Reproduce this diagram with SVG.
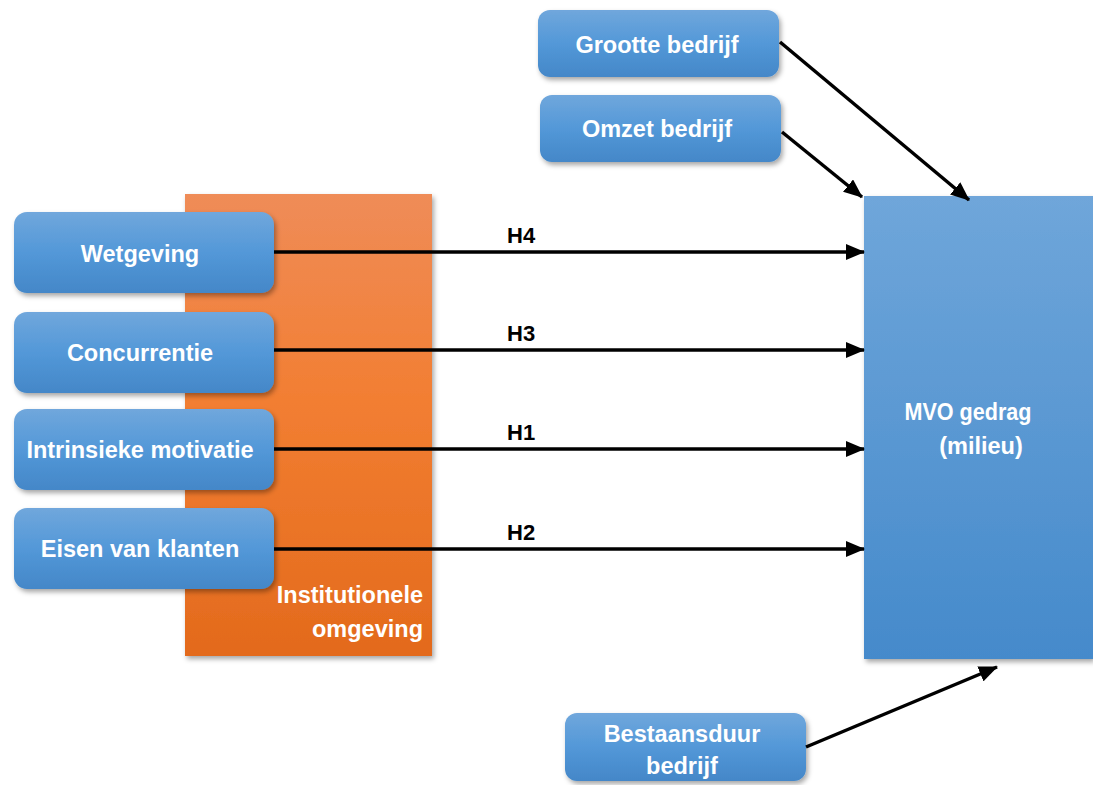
<svg xmlns="http://www.w3.org/2000/svg" width="1093" height="785" viewBox="0 0 1093 785">
<defs>
<linearGradient id="gBlue" x1="0" y1="0" x2="0" y2="1">
<stop offset="0" stop-color="#70A7DC"/>
<stop offset="0.5" stop-color="#5398D8"/>
<stop offset="1" stop-color="#4487C8"/>
</linearGradient>
<linearGradient id="gBig" x1="0" y1="0" x2="0" y2="1">
<stop offset="0" stop-color="#6FA6DA"/>
<stop offset="1" stop-color="#458ACB"/>
</linearGradient>
<linearGradient id="gOrange" x1="0" y1="0" x2="0" y2="1">
<stop offset="0" stop-color="#EF8C58"/>
<stop offset="0.45" stop-color="#F27E32"/>
<stop offset="1" stop-color="#E36A1C"/>
</linearGradient>
<filter id="sh" x="-10%" y="-10%" width="125%" height="130%">
<feDropShadow dx="2" dy="3" stdDeviation="2.5" flood-color="#000" flood-opacity="0.35"/>
</filter>
<marker id="ah" markerUnits="userSpaceOnUse" markerWidth="19" markerHeight="16" refX="18" refY="8" orient="auto">
<path d="M0,0 L19,8 L0,16 Z" fill="#000"/>
</marker>
</defs>
<style>
.box{fill:url(#gBlue);filter:url(#sh);}
.t{font-family:"Liberation Sans",Arial,sans-serif;font-weight:bold;font-size:23.5px;fill:#fff;text-anchor:middle;}
.h{font-family:"Liberation Sans",Arial,sans-serif;font-weight:bold;font-size:22px;fill:#000;}
.c{stroke:#000;stroke-width:3.5;fill:none;marker-end:url(#ah);}
</style>
<rect width="1093" height="785" fill="#fff"/>
<g id="institutionele">
<rect x="185" y="194" width="247" height="462" fill="url(#gOrange)" filter="url(#sh)"/>
<text class="t" style="text-anchor:end" x="423" y="603">Institutionele</text>
<text class="t" style="text-anchor:end" x="423" y="637">omgeving</text>
</g>
<g id="mvo">
<rect x="864" y="196" width="229" height="463" fill="url(#gBig)" filter="url(#sh)"/>
<text class="t" x="968" y="420" textLength="127" lengthAdjust="spacingAndGlyphs">MVO gedrag</text>
<text class="t" x="981" y="454">(milieu)</text>
</g>
<g id="wetgeving">
<rect class="box" x="14" y="212" width="260" height="81" rx="13"/>
<text class="t" x="140" y="262">Wetgeving</text>
</g>
<g id="concurrentie">
<rect class="box" x="14" y="312" width="260" height="81" rx="13"/>
<text class="t" x="140" y="361">Concurrentie</text>
</g>
<g id="intrinsieke">
<rect class="box" x="14" y="409" width="260" height="81" rx="13"/>
<text class="t" x="140" y="458">Intrinsieke motivatie</text>
</g>
<g id="eisen">
<rect class="box" x="14" y="508" width="260" height="81" rx="13"/>
<text class="t" x="140" y="557">Eisen van klanten</text>
</g>
<g id="grootte">
<rect class="box" x="538" y="10" width="241" height="67" rx="12"/>
<text class="t" x="657" y="53">Grootte bedrijf</text>
</g>
<g id="omzet">
<rect class="box" x="540" y="95" width="241" height="67" rx="12"/>
<text class="t" x="657" y="137">Omzet bedrijf</text>
</g>
<g id="bestaansduur">
<rect class="box" x="565" y="713" width="241" height="68" rx="12"/>
<text class="t" x="682" y="742">Bestaansduur</text>
<text class="t" x="682" y="774">bedrijf</text>
</g>
<g id="connectors">
<line class="c" x1="274" y1="252" x2="864" y2="252"/>
<line class="c" x1="274" y1="350" x2="864" y2="350"/>
<line class="c" x1="274" y1="449" x2="864" y2="449"/>
<line class="c" x1="274" y1="549" x2="864" y2="549"/>
<line class="c" x1="780" y1="42" x2="969" y2="200"/>
<line class="c" x1="782" y1="132" x2="862" y2="197"/>
<line class="c" x1="806" y1="747" x2="997" y2="667"/>
<text class="h" x="507" y="243">H4</text>
<text class="h" x="507" y="341">H3</text>
<text class="h" x="507" y="440">H1</text>
<text class="h" x="507" y="540">H2</text>
</g>
</svg>
